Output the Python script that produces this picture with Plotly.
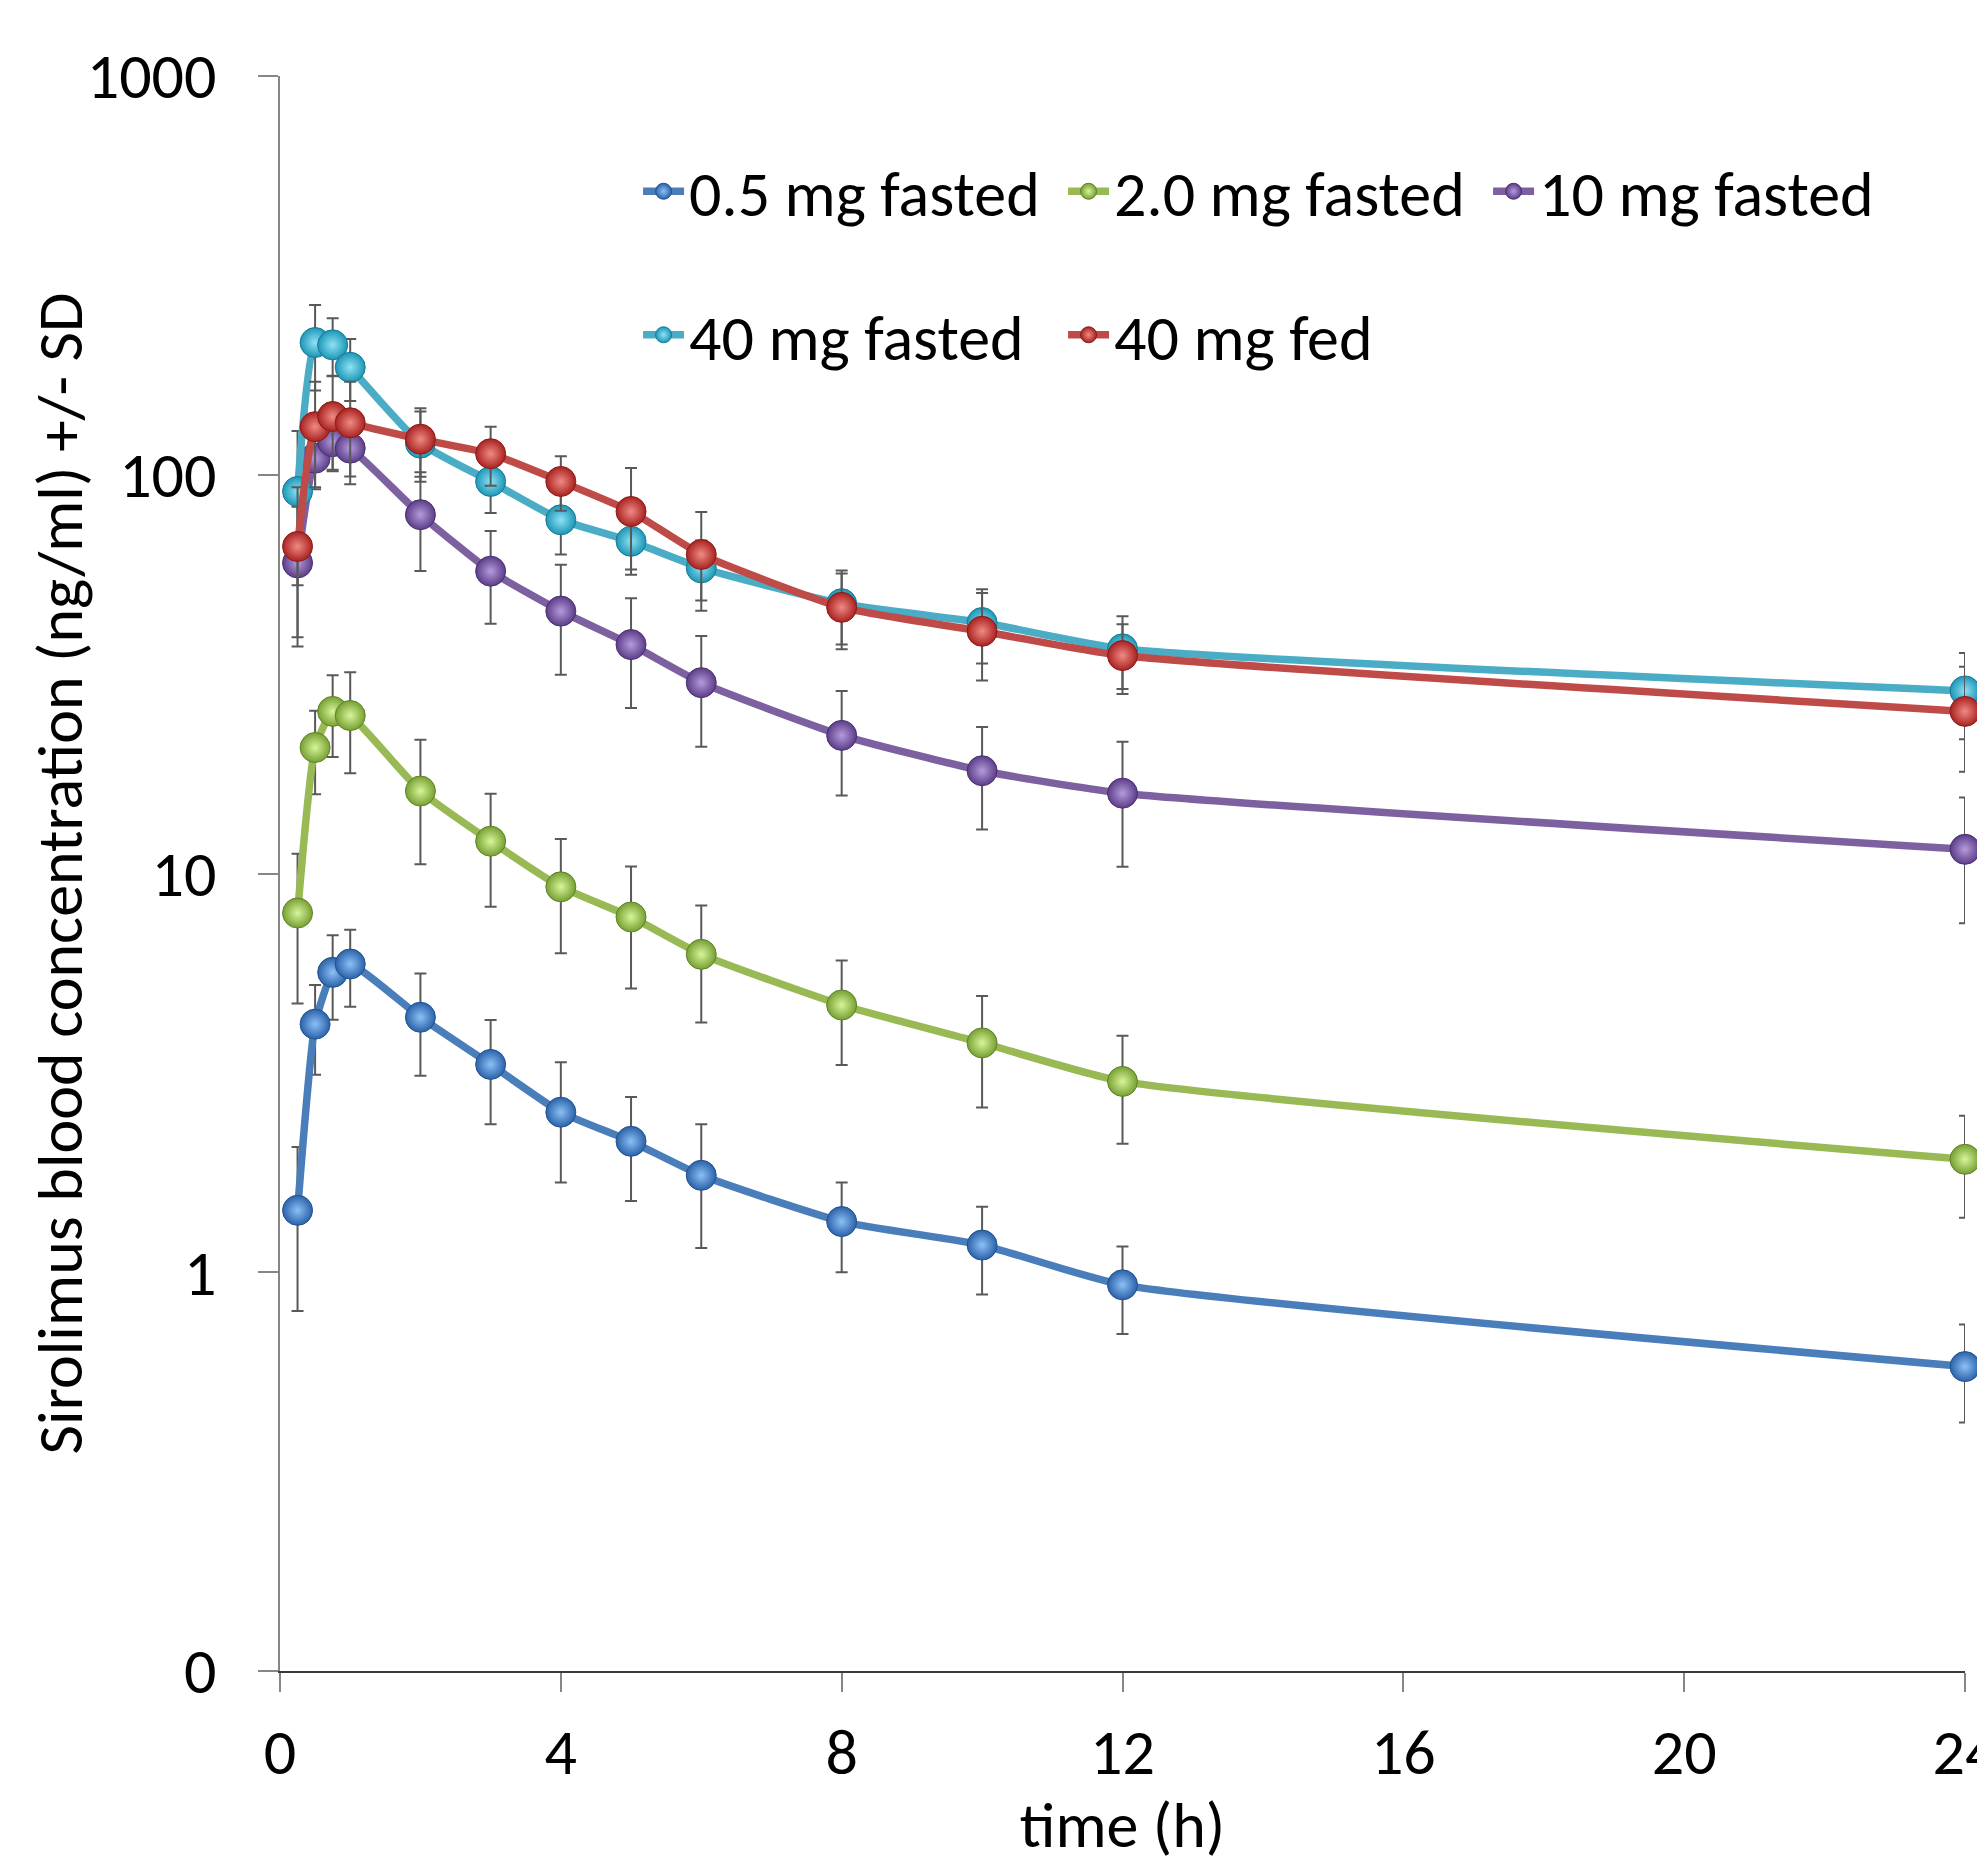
import plotly.graph_objects as go

# ---------------- data ----------------
time_h = [0.25, 0.5, 0.75, 1, 2, 3, 4, 5, 6, 8, 10, 12, 24]

names = ["0.5 mg fasted", "2.0 mg fasted", "10 mg fasted", "40 mg fasted", "40 mg fed"]

conc_05_fasted = [1.43, 4.19, 5.65, 5.93, 4.36, 3.32, 2.52, 2.13, 1.75, 1.34, 1.17, 0.93, 0.58]
sd_05_fasted = [0.63, 1.06, 1.35, 1.3, 1.25, 0.97, 0.84, 0.62, 0.6, 0.34, 0.29, 0.23, 0.16]

conc_20_fasted = [7.96, 20.7, 25.5, 24.9, 16.1, 12.05, 9.26, 7.78, 6.27, 4.68, 3.76, 3.01, 1.92]
sd_20_fasted = [3.24, 4.9, 5.9, 7.05, 5.55, 3.8, 2.95, 2.63, 2.04, 1.37, 1.17, 0.91, 0.55]

conc_10_fasted = [60.1, 110, 121, 116.6, 79.4, 57.3, 45.5, 37.5, 30.1, 22.2, 18.1, 15.9, 11.5]
sd_10_fasted = [23, 18, 19, 22, 22, 15, 14, 11.5, 9.3, 6.5, 5.2, 5.5, 4.0]

conc_40_fasted = [90.8, 214.6, 211.7, 186, 120, 96.2, 77.1, 68.1, 58.4, 47.5, 42.6, 36.6, 28.7]
sd_40_fasted = [38, 52, 35, 33, 24, 16, 14, 12, 10, 10, 9, 7.6, 7]

conc_40_fed = [66.1, 132, 140, 135, 122.8, 112.9, 96.2, 80.9, 63.1, 46.5, 40.5, 35.2, 25.5]
sd_40_fed = [27, 39, 37, 36, 24, 19, 15, 23, 17.5, 10, 10, 7, 7.5]

x_ticks = [0, 4, 8, 12, 16, 20, 24]
y_tickvals = [0.1, 1, 10, 100, 1000]
y_ticktext = ["0", "1", "10", "100", "1000"]

y_title = "Sirolimus blood concentration (ng/ml) +/- SD"
x_title = "time (h)"

# ---------------- style ----------------
series = [conc_05_fasted, conc_20_fasted, conc_10_fasted, conc_40_fasted, conc_40_fed]
sds = [sd_05_fasted, sd_20_fasted, sd_10_fasted, sd_40_fasted, sd_40_fed]
line_colors = ["#4A7EBB", "#98B954", "#7D60A0", "#4BACC6", "#BE4B48"]
edge_colors = ["#2A62AA", "#76A032", "#5B3D88", "#1C96B6", "#A8221F"]
center_colors = ["#8CC0F5", "#D8F59A", "#B59BDC", "#8FE2F5", "#F08A85"]
outline_colors = ["#22528F", "#5F8228", "#4A3170", "#177A94", "#8A1C1A"]
legend_ids = ["legend", "legend", "legend", "legend2", "legend2"]

FONT = "Carlito, Calibri, Lato, sans-serif"
FS = 64

fig = go.Figure()
for i in range(5):
    fig.add_trace(go.Scatter(
        x=time_h, y=series[i], name=names[i],
        mode="lines+markers",
        line=dict(color=line_colors[i], width=7.5, shape="spline", smoothing=0.5),
        marker=dict(size=30, color=edge_colors[i],
                    gradient=dict(type="radial", color=center_colors[i]),
                    line=dict(color=outline_colors[i], width=1)),
        error_y=dict(type="data", array=sds[i], visible=True,
                     color="#595959", thickness=2, width=6),
        cliponaxis=False,
        legend=legend_ids[i],
    ))

fig.update_layout(
    width=1977, height=1856,
    margin=dict(l=272, r=20, t=68, b=193, autoexpand=False),
    paper_bgcolor="white", plot_bgcolor="white",
    font=dict(family=FONT, size=FS, color="black"),
    xaxis=dict(
        range=[0, 24], tickvals=x_ticks, ticks="outside", ticklen=19,
        tickcolor="#868686", tickwidth=1.5,
        showline=True, linecolor="#3a3a3a", linewidth=2,
        showgrid=False, zeroline=False, automargin=False,
        ticklabelstandoff=5, ticklabeloverflow="allow",
        title=dict(text=x_title, standoff=8, font=dict(size=FS)),
    ),
    xaxis2=dict(
        range=[0, 24], tickvals=x_ticks, ticks="inside", ticklen=19,
        tickcolor="#868686", tickwidth=1.5, overlaying="x", anchor="y",
        side="bottom", showticklabels=False, showline=False,
        showgrid=False, zeroline=False,
    ),
    yaxis=dict(
        type="log", range=[-1, 3], tickvals=y_tickvals, ticktext=y_ticktext,
        ticks="outside", ticklen=20, tickcolor="#868686", tickwidth=1.5,
        showline=True, linecolor="#868686", linewidth=1.5,
        showgrid=False, zeroline=False, automargin=False,
        ticklabelstandoff=29,
    ),
    annotations=[dict(
        text=y_title, xref="paper", yref="paper", x=-0.1306, y=0.5,
        xanchor="center", yanchor="middle", textangle=-90, showarrow=False,
        font=dict(size=FS, family=FONT, color="black"),
    )],
    legend=dict(orientation="h", x=0.2125, xanchor="left", y=0.9275, yanchor="middle",
                font=dict(size=FS), bgcolor="rgba(0,0,0,0)",
                entrywidthmode="pixels", entrywidth=369, itemwidth=41),
    legend2=dict(orientation="h", x=0.2125, xanchor="left", y=0.8375, yanchor="middle",
                 font=dict(size=FS), bgcolor="rgba(0,0,0,0)",
                 entrywidthmode="pixels", entrywidth=369, itemwidth=41),
    showlegend=True,
)

fig.write_html("out.html")
